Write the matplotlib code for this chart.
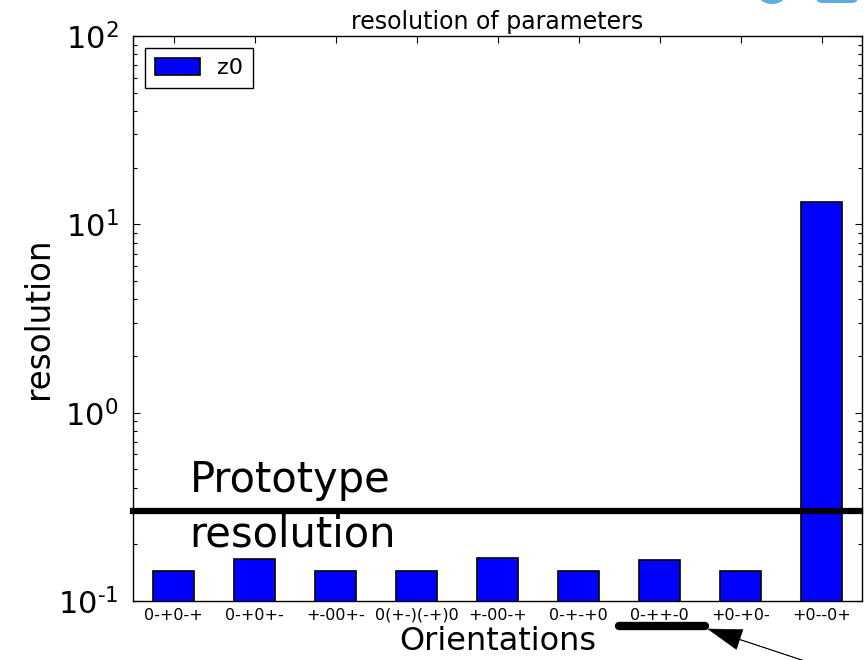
import matplotlib
matplotlib.use("Agg")
import numpy as np
import matplotlib.pyplot as plt
from matplotlib.patches import Ellipse, FancyBboxPatch
from matplotlib.lines import Line2D
from matplotlib.ticker import FuncFormatter, LogLocator

plt.rcParams["axes.unicode_minus"] = False

# Orientation labels and the z0 resolution for each
orientations = ["0-+0-+", "0-+0+-", "+-00+-", "0(+-)(-+)0", "+-00-+",
                "0-+-+0", "0-++-0", "+0-+0-", "+0--0+"]
z0_resolution = [0.144, 0.167, 0.144, 0.144, 0.169, 0.144, 0.165, 0.144, 13.1]
prototype_resolution = 0.3

fig = plt.figure(figsize=(8.68, 6.6), dpi=100, facecolor="white")
ax = fig.add_axes([133 / 868, 1 - 601 / 660, (862 - 133) / 868, (601 - 36) / 660])

x = list(range(len(orientations)))
ax.bar(x, z0_resolution, width=0.5, align="center", color="#0000ff",
       edgecolor="black", linewidth=1.2, label="z0", zorder=2)
ax.set_yscale("log")
ax.set_ylim(0.1, 100)
ax.set_xlim(-0.5, len(orientations) - 0.5)
ax.set_xticks(x)
ax.set_xticklabels(orientations, fontsize=11.5)


def decade_label(v, pos):
    e = int(round(np.log10(v)))
    exp = r"\text{-}%d" % abs(e) if e < 0 else "%d" % e
    return r"$\mathdefault{10^{%s}}$" % exp


ax.yaxis.set_major_locator(LogLocator(base=10))
ax.yaxis.set_major_formatter(FuncFormatter(decade_label))

ax.tick_params(which="both", direction="in", top=True, right=True, zorder=3)
ax.tick_params(which="major", length=5, width=0.8, labelsize=22, pad=10.5)
ax.tick_params(which="minor", length=3, width=0.8)
ax.tick_params(axis="x", which="major", labelsize=11.5, pad=5)
for s in ax.spines.values():
    s.set_linewidth(1.0)

ax.axhline(prototype_resolution, color="black", linewidth=4.5, zorder=4, clip_on=False,
           xmax=0.997)
ax.annotate("Prototype", xy=(0.2, prototype_resolution), xytext=(0, 7),
            textcoords="offset points", fontsize=30, va="bottom", ha="left")
ax.annotate("resolution", xy=(0.2, prototype_resolution), xytext=(0, -1.5),
            textcoords="offset points", fontsize=30, va="top", ha="left")

ax.set_title("resolution of parameters", fontsize=17, pad=5)
ax.set_xlabel("Orientations", fontsize=23, labelpad=2)
ax.set_ylabel("resolution", fontsize=23.5, labelpad=2.5)

leg = ax.legend(loc="upper left", fontsize=16, fancybox=False, framealpha=1,
                edgecolor="black", handlelength=2.0, handleheight=0.8,
                borderpad=0.45, borderaxespad=0.55)
leg.get_frame().set_linewidth(1.0)

# Underline beneath the highlighted orientation and a pointer arrow
fig.add_artist(Line2D([619 / 868, 705 / 868], [1 - 626 / 660, 1 - 626 / 660],
                      transform=fig.transFigure, color="black", linewidth=6,
                      solid_capstyle="round"))
ax.annotate("", xy=(708, 660 - 629), xycoords="figure pixels",
            xytext=(835, 660 - 671), textcoords="figure pixels",
            arrowprops=dict(facecolor="black", edgecolor="black", width=0.3,
                            linewidth=0.4, headwidth=15, headlength=24, shrink=0),
            annotation_clip=False)

# Light blue shapes at the upper right corner
fig.add_artist(Ellipse((772 / 868, 1 + 18 / 660), 40 / 868, 44 / 660,
                       transform=fig.transFigure, color="#5dade2", lw=0))
fig.add_artist(FancyBboxPatch((816 / 868, 1 - 3 / 660), 42 / 868, 30 / 660,
                              boxstyle="round,pad=0,rounding_size=0.008",
                              transform=fig.transFigure, color="#5dade2", lw=0))

fig.savefig("out.png", dpi=100, facecolor="white")
